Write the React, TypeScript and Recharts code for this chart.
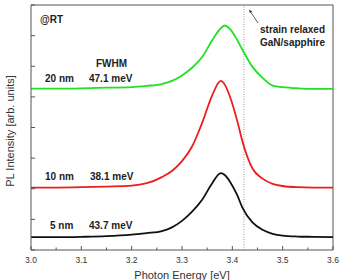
import { LineChart, Line, XAxis, YAxis, ReferenceLine } from "recharts";

// photon energy grid [eV]
const energy = [
  3.0, 3.05, 3.1, 3.15, 3.2, 3.23, 3.26, 3.28, 3.3, 3.32, 3.34, 3.36, 3.377,
  3.385, 3.395, 3.41, 3.42, 3.44, 3.46, 3.48, 3.5, 3.53, 3.56, 3.6,
];
// PL intensity, offset per well width (arb. units)
const nm5 = [
  0.42, 0.42, 0.43, 0.45, 0.5, 0.55, 0.62, 0.74, 0.95, 1.25, 1.64, 2.18, 2.51,
  2.45, 2.24, 1.78, 1.38, 0.9, 0.66, 0.53, 0.47, 0.44, 0.43, 0.42,
];
const nm10 = [
  2.04, 2.04, 2.05, 2.07, 2.1, 2.18, 2.38, 2.58, 2.9, 3.38, 4.15, 5.05, 5.52,
  5.4, 5.02, 4.2, 3.55, 2.66, 2.33, 2.16, 2.09, 2.05, 2.04, 2.04,
];
const nm20 = [
  5.27, 5.27, 5.28, 5.3, 5.32, 5.36, 5.42, 5.52, 5.7, 5.95, 6.3, 6.85, 7.24,
  7.33, 7.22, 6.85, 6.54, 5.98, 5.62, 5.37, 5.32, 5.28, 5.26, 5.26,
];

const xTicks = [3.0, 3.05, 3.1, 3.15, 3.2, 3.25, 3.3, 3.35, 3.4, 3.45, 3.5, 3.55, 3.6];
const yTicks = [0, 1, 2, 3, 4, 5, 6, 7, 8];
const gaNLine = 3.423;

const data = energy.map((e, i) => ({
  e,
  nm5: nm5[i],
  nm10: nm10[i],
  nm20: nm20[i],
}));

const font = "'Liberation Sans', Arial, sans-serif";
const axisColor = "#555";

const XTick = (props: any) => {
  const { x, y, payload } = props;
  const v = payload.value;
  const major = Math.round(v * 100) % 10 === 0;
  return (
    <g>
      <line x1={x} x2={x} y1={y} y2={y - (major ? 4 : 2.5)} stroke={axisColor} />
      {major && (
        <text x={x} y={y + 12.7} textAnchor="middle" fontSize={8.5} fill="#333" fontFamily={font}>
          {v.toFixed(1)}
        </text>
      )}
    </g>
  );
};

const YTick = (props: any) => {
  const { x, y } = props;
  return <line x1={x} x2={x + 4} y1={y} y2={y} stroke={axisColor} />;
};

const bold = { fontSize: 10, fontWeight: 700, fill: "#222", fontFamily: font };

export default function App() {
  return (
    <div style={{ position: "absolute", left: 0, top: 0 }}>
      <LineChart
        width={340}
        height={280}
        data={data}
        margin={{ top: 5, right: 7, bottom: 0, left: 0 }}
      >
        <XAxis
          dataKey="e"
          type="number"
          domain={[3.0, 3.6]}
          ticks={xTicks}
          height={30}
          tickLine={false}
          tickSize={0}
          tickMargin={0}
          tick={<XTick />}
          stroke={axisColor}
          interval={0}
        />
        <YAxis
          type="number"
          domain={[0, 8]}
          ticks={yTicks}
          width={31}
          tickLine={false}
          tickSize={0}
          tickMargin={0}
          tick={<YTick />}
          stroke={axisColor}
          interval={0}
        />
        <ReferenceLine y={8} stroke={axisColor} />
        <ReferenceLine x={3.6} stroke={axisColor} />
        <ReferenceLine x={gaNLine} stroke="#999" strokeDasharray="1 1.5" />
        <Line type="monotone" dataKey="nm5" stroke="#111" strokeWidth={1.8} dot={false} isAnimationActive={false} />
        <Line type="monotone" dataKey="nm10" stroke="#ee1c1c" strokeWidth={1.8} dot={false} isAnimationActive={false} />
        <Line type="monotone" dataKey="nm20" stroke="#22e022" strokeWidth={1.8} dot={false} isAnimationActive={false} />

        <text x={10} y={131} transform="rotate(-90 10 131)" textAnchor="middle" dominantBaseline="central" fontSize={11} fill="#333" fontFamily={font}>
          PL Intensity [arb. units]
        </text>
        <text x={182} y={279} textAnchor="middle" fontSize={11} fill="#333" fontFamily={font}>
          Photon Energy [eV]
        </text>

        <text x={40} y={23} {...bold}>@RT</text>
        <text x={96} y={67} {...bold}>FWHM</text>
        <text x={45} y={81.5} {...bold}>20 nm</text>
        <text x={89} y={81.5} {...bold}>47.1 meV</text>
        <text x={45} y={180} {...bold}>10 nm</text>
        <text x={90} y={180} {...bold}>38.1 meV</text>
        <text x={50} y={229} {...bold}>5 nm</text>
        <text x={89} y={229} {...bold}>43.7 meV</text>
        <text x={260} y={32.5} {...bold}>strain relaxed</text>
        <text x={260} y={46} {...bold}>GaN/sapphire</text>

        <line x1={258} y1={23} x2={250} y2={11} stroke="#333" strokeWidth={0.8} />
        <path d="M249,9.5 L252.2,11.6 L249.9,13.1 Z" fill="#333" />
      </LineChart>
    </div>
  );
}
